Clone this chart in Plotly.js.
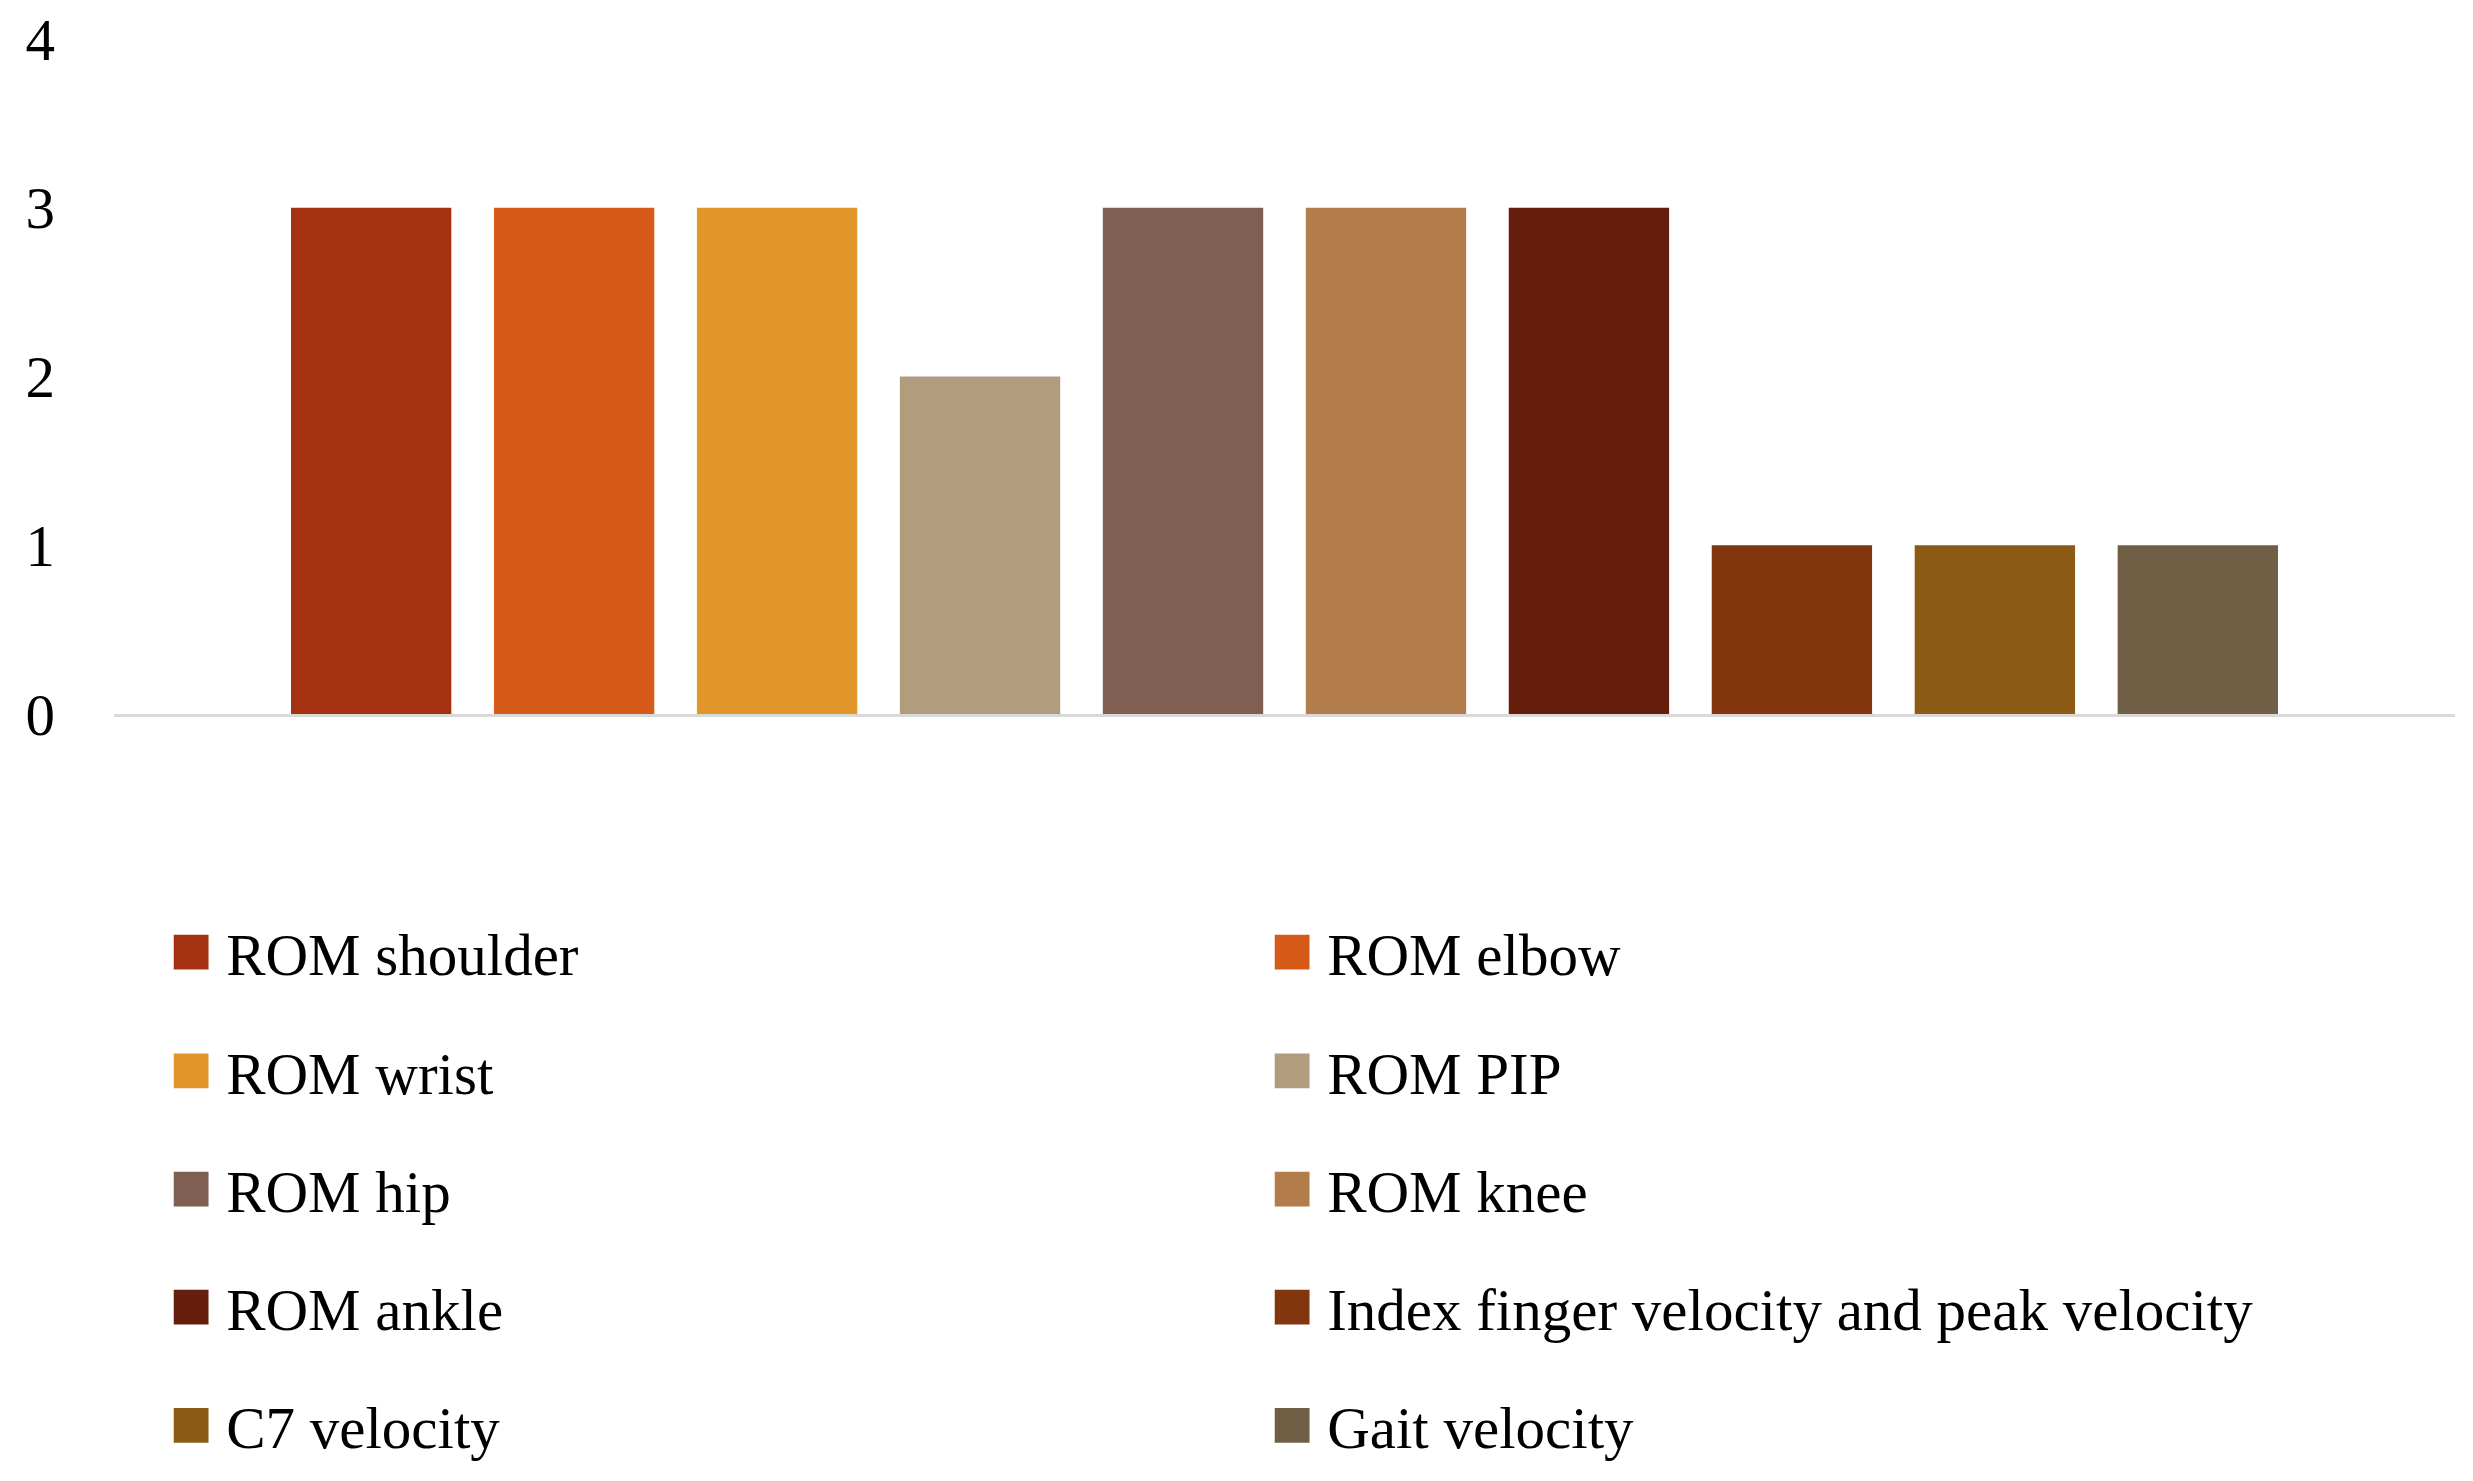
<!DOCTYPE html>
<html>
<head>
<meta charset="utf-8">
<script src="https://cdn.plot.ly/plotly-3.0.1.min.js"></script>
<style>
  html, body { margin: 0; padding: 0; background: #fff; }
  #chart { width: 2473px; height: 1481px; }
</style>
</head>
<body>
<div id="chart"></div>
<script>
// measures and how many studies reported each
const MEASURES = [
  'ROM shoulder', 'ROM elbow', 'ROM wrist', 'ROM PIP', 'ROM hip',
  'ROM knee', 'ROM ankle', 'Index finger velocity and peak velocity',
  'C7 velocity', 'Gait velocity',
];
const COUNTS = [3, 3, 3, 2, 3, 3, 3, 1, 1, 1];
const COLORS = [
  '#A33112', '#D65A18', '#E09628', '#B19C7D', '#7E5F52',
  '#B27D4A', '#661E0C', '#81360E', '#8B5B15', '#705F44',
];
const Y_TICKS = [0, 1, 2, 3, 4];

const FONT = 'Palatino Linotype, Book Antiqua, Palatino, Liberation Serif, serif';

// every measure is its own series on one (unlabelled) category, like the excel original
const traces = MEASURES.map((m, i) => ({
  type: 'bar',
  name: m,
  x: [0],
  y: [COUNTS[i]],
  marker: { color: COLORS[i], line: { width: 0 } },
  legend: i < 2 ? 'legend' : 'legend' + (Math.floor(i / 2) + 1),
  hovertemplate: m + ': %{y}<extra></extra>',
}));

// one legend per row, two entries each
const ROW_Y = [-0.353, -0.529, -0.704, -0.879, -1.054];
const legendBase = {
  orientation: 'h',
  x: 0.018, xanchor: 'left',
  yanchor: 'middle',
  entrywidth: 1026, entrywidthmode: 'pixels',
  itemwidth: 60,
  bgcolor: 'rgba(0,0,0,0)',
  font: { family: FONT, size: 59, color: '#000' },
  traceorder: 'normal',
};

const layout = {
  width: 2473, height: 1481,
  paper_bgcolor: '#fff', plot_bgcolor: '#fff',
  font: { family: FONT, size: 59, color: '#000' },
  margin: { l: 114, r: 18, t: 39, b: 767, autoexpand: false },
  barmode: 'group',
  bargap: 0.133,
  bargroupgap: 0.21,
  showlegend: true,
  xaxis: {
    range: [-0.5, 0.5],
    showticklabels: false, showgrid: false, zeroline: false,
    showline: true, linecolor: '#d9d9d9', linewidth: 3,
    fixedrange: true,
  },
  yaxis: {
    range: [0, 4],
    tickvals: Y_TICKS,
    ticktext: Y_TICKS.map(String),
    showgrid: false, zeroline: false, showline: false,
    ticks: '', ticklabelstandoff: 58,
    tickfont: { family: FONT, size: 59, color: '#000' },
    fixedrange: true,
  },
};
ROW_Y.forEach((y, r) => {
  layout[r === 0 ? 'legend' : 'legend' + (r + 1)] = { ...legendBase, y };
});

const CONFIG = { displayModeBar: false, responsive: false, staticPlot: true };

Plotly.newPlot('chart', traces, layout, CONFIG).then(() => {
  // plotly draws bar legend swatches at a fixed 12px, blow them up to match
  document.querySelectorAll('.legendpoints path').forEach(p => {
    const t = p.getAttribute('transform') || '';
    p.setAttribute('transform', t + ' scale(2.9)');
  });
});
</script>
</body>
</html>
